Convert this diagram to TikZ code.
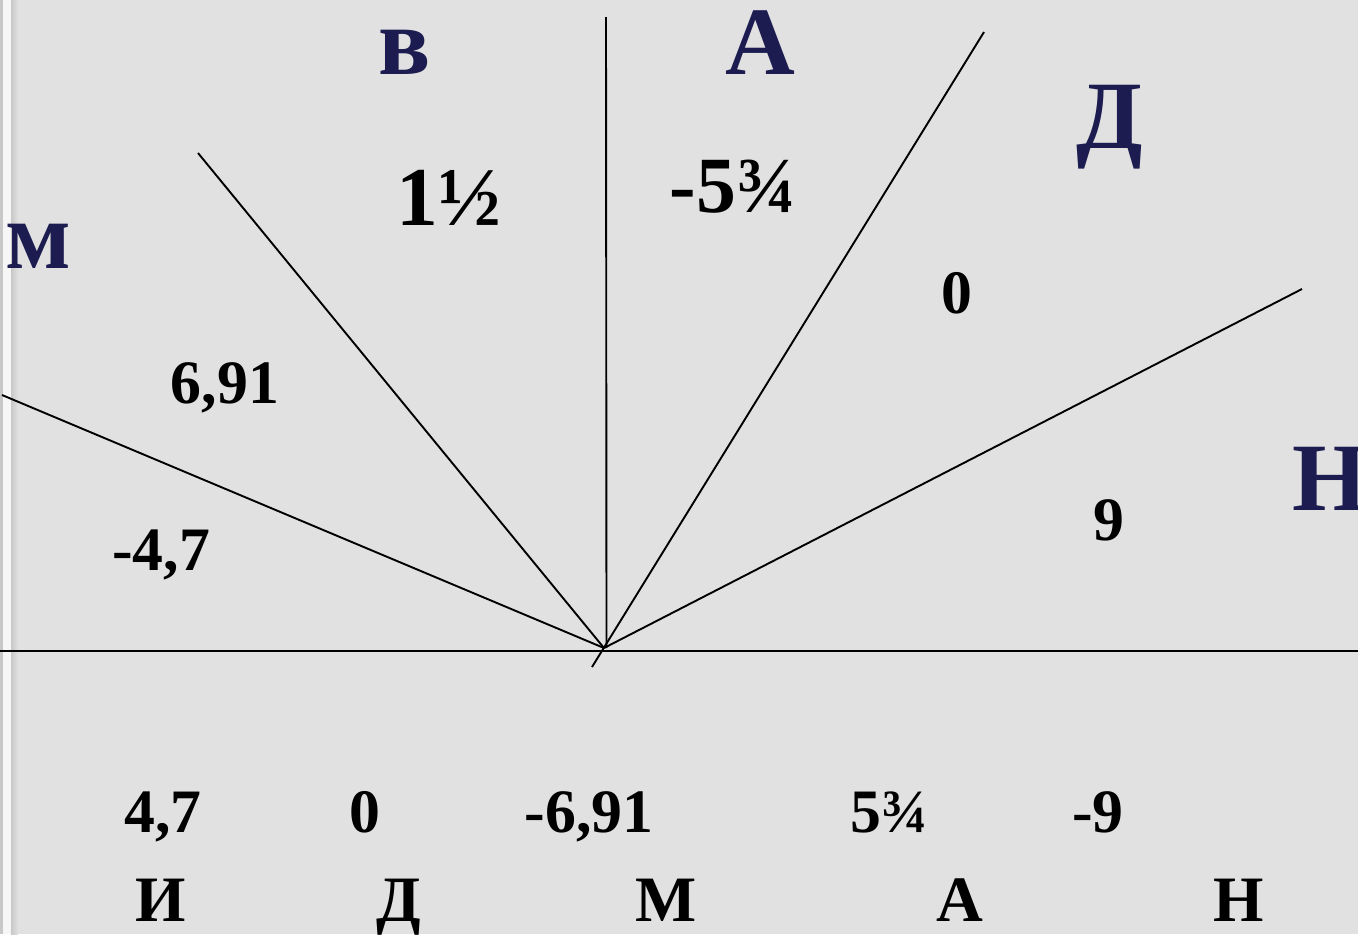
\documentclass[tikz,border=0pt]{standalone}
\usepackage{fontspec}
\setmainfont{Liberation Serif}
\definecolor{bgc}{RGB}{225,225,225}
\definecolor{navy}{RGB}{28,28,80}
\definecolor{stripw}{RGB}{246,246,246}
\definecolor{stripg}{RGB}{200,200,200}
\tikzset{
  ray/.style={line width=1.9bp, black},
  let/.style={font=\fontsize{97}{100}\selectfont\bfseries, text=navy, inner sep=0pt, anchor=base},
  num/.style={font=\fontsize{62}{64}\selectfont\bfseries, text=black, inner sep=0pt, anchor=base},
  bnum/.style={font=\fontsize{84}{86}\selectfont\bfseries, text=black, inner sep=0pt, anchor=base},
  mnum/.style={font=\fontsize{80}{82}\selectfont\bfseries, text=black, inner sep=0pt, anchor=base},
  blet/.style={font=\fontsize{65}{68}\selectfont\bfseries, text=black, inner sep=0pt, anchor=base}
}
\begin{document}
\begin{tikzpicture}[x=1bp,y=-1bp]
\useasboundingbox (0,0) rectangle (1358,934);
\fill[bgc] (0,0) rectangle (1358,934);
% left strip
\fill[stripg] (0,0) rectangle (3,934);
\fill[stripw] (3,0) rectangle (11,934);
\shade[left color=stripg, right color=bgc] (11,0) rectangle (18,934);
% rays
\coordinate (O) at (604,648);
\coordinate (pM) at (2,395);
\coordinate (pV) at (198,153);
\coordinate (pA) at (606,17);
\coordinate (pD) at (984,32);
\coordinate (pN) at (1302,289);
\coordinate (stub) at (592,667);
\coordinate (hl) at (0,651);
\coordinate (hr) at (1358,651);
\coordinate (vb) at (606.5,648);
\draw[ray] (hl) -- (hr);
\draw[ray] (O) -- (pM);
\draw[ray] (O) -- (pV);
\draw[ray] (vb) -- (pA);
\draw[ray] (stub) -- (pD);
\draw[ray] (O) -- (pN);
% top letters
\node[let] (lm) at (38,268) {м};
\node[let] (lv) at (405,74) {в};
\node[let] (lA) at (760,74) {А};
\node[let] (lD) at (1110,148) {Д};
\node[let] (lN) at (1330,510) {Н};
% sector numbers
\node[bnum] (n1) at (449,225) {1½};
\node[mnum] (n2) at (733,212) {-5¾};
\node[num] (n3) at (957,313) {0};
\node[num] (n4) at (225,403) {6,91};
\node[num] (n5) at (161,570) {-4,7};
\node[num] (n6) at (1109,540) {9};
% bottom numbers
\node[num] (b1) at (163,832) {4,7};
\node[num] (b2) at (365,832) {0};
\node[num] (b3) at (589,832) {-6,91};
\node[num] (b4) at (889,832) {5¾};
\node[num] (b5) at (1098,832) {-9};
% bottom letters
\node[blet] (c1) at (161,921) {И};
\node[blet] (c2) at (399,921) {Д};
\node[blet] (c3) at (666,921) {М};
\node[blet] (c4) at (960,921) {А};
\node[blet] (c5) at (1239,921) {Н};
\end{tikzpicture}
\end{document}
